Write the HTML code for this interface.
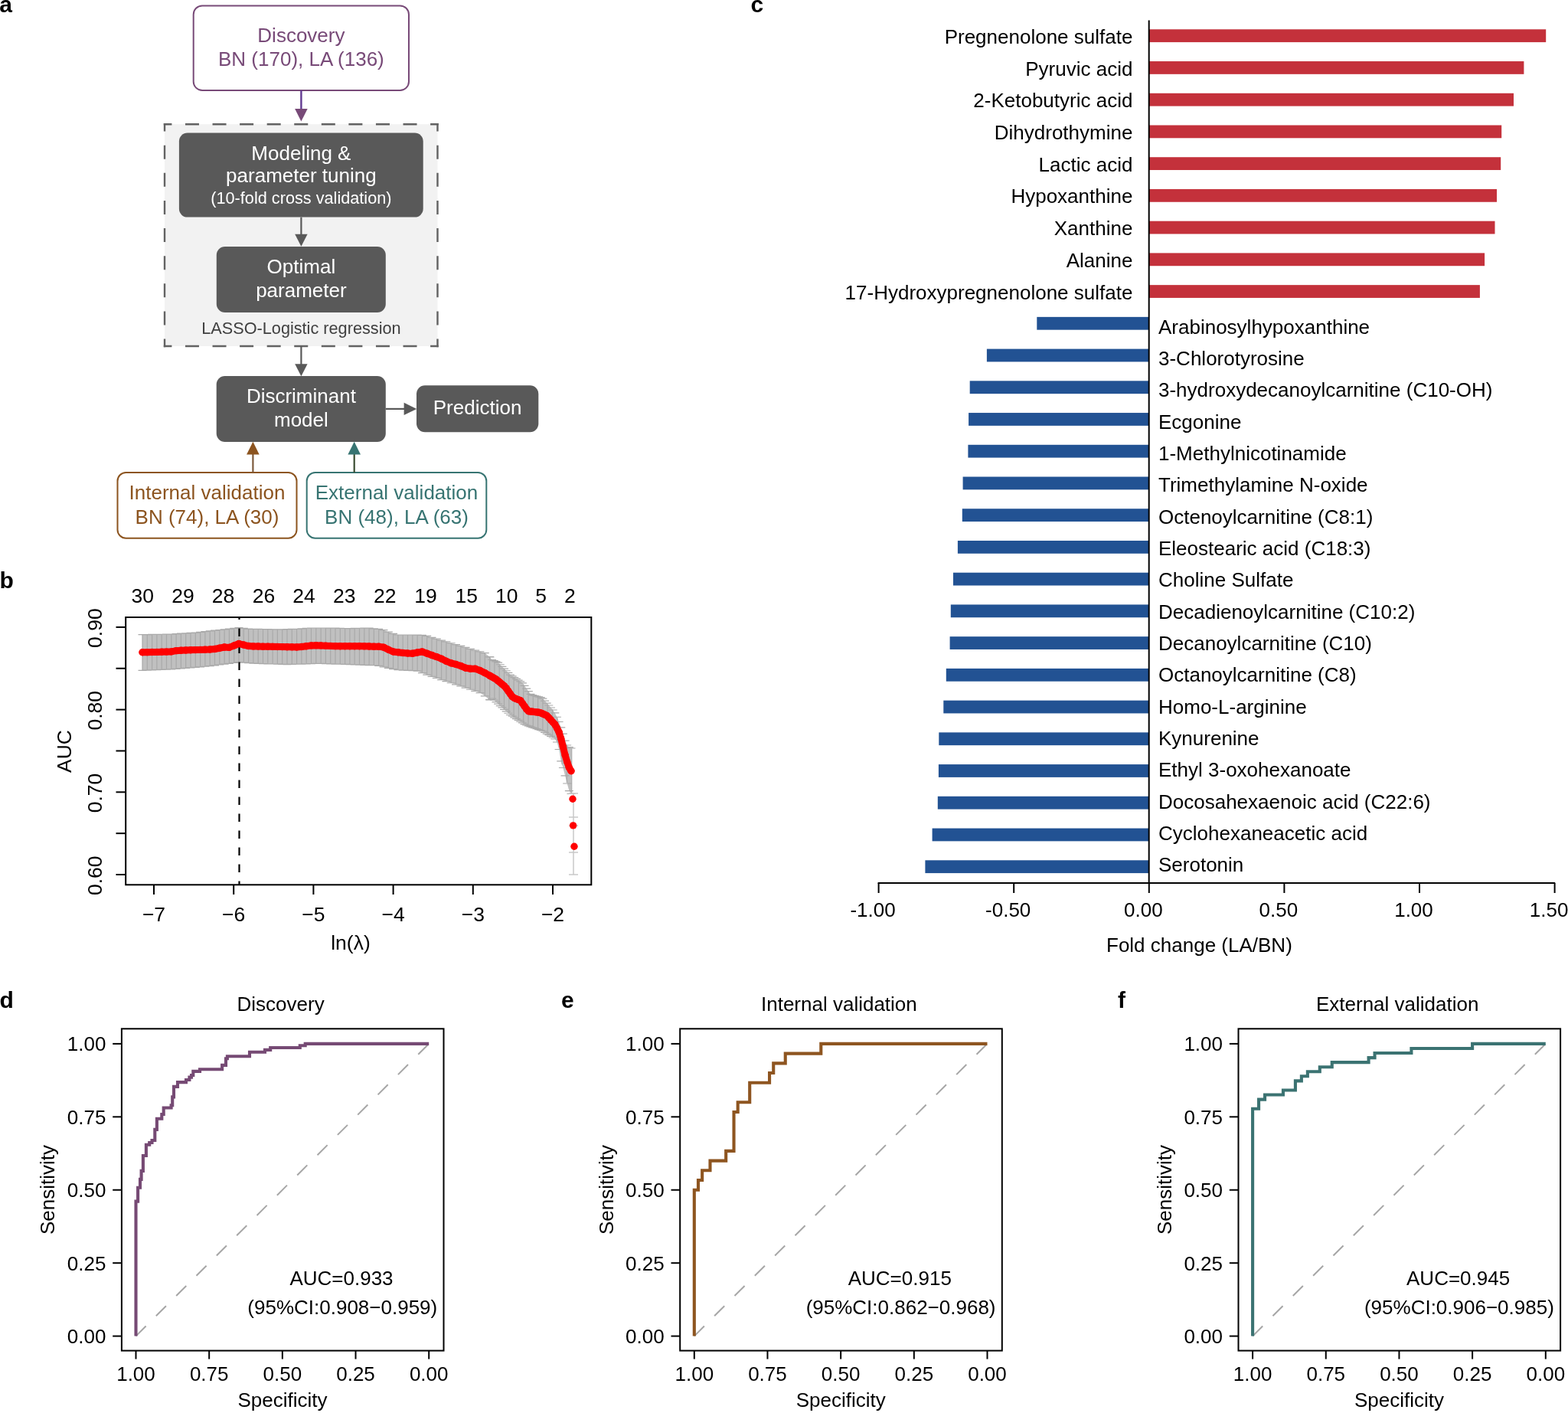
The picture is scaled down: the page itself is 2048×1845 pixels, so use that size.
<!DOCTYPE html>
<html><head><meta charset="utf-8"><title>Figure</title>
<style>
html,body{margin:0;padding:0;background:#fff;width:2048px;height:1845px;overflow:hidden;}
svg{display:block;}
text{font-family:"Liberation Sans", Arial, sans-serif;}
</style></head><body>
<svg width="2048" height="1845" viewBox="0 0 2048 1845">
<rect width="2048" height="1845" fill="#fff"/>
<text x="-0.8" y="15.6" font-size="30" text-anchor="start" fill="#000" font-weight="bold">a</text>
<text x="980.4" y="16.2" font-size="30" text-anchor="start" fill="#000" font-weight="bold">c</text>
<text x="-0.6" y="767.6" font-size="30" text-anchor="start" fill="#000" font-weight="bold">b</text>
<text x="-0.6" y="1315.7" font-size="30" text-anchor="start" fill="#000" font-weight="bold">d</text>
<text x="733" y="1315.7" font-size="30" text-anchor="start" fill="#000" font-weight="bold">e</text>
<text x="1460" y="1315.7" font-size="30" text-anchor="start" fill="#000" font-weight="bold">f</text>
<rect x="252.7" y="7.4" width="281.3" height="110.6" rx="11.5" fill="#fff" stroke="#784a78" stroke-width="2"/>
<text x="393.4" y="55" font-size="26" text-anchor="middle" fill="#784a78">Discovery</text>
<text x="393.4" y="86.4" font-size="26" text-anchor="middle" fill="#784a78">BN (170), LA (136)</text>
<line x1="393.4" y1="118" x2="393.4" y2="143" stroke="#623a92" stroke-width="2.4"/>
<polygon points="385.1,142 401.7,142 393.4,158.5" fill="#784a78"/>
<rect x="215" y="162.2" width="356.5" height="289.8" rx="0" fill="#f2f2f2" stroke="none" stroke-width="0"/>
<line x1="213.8" y1="162.2" x2="572.7" y2="162.2" stroke="#626262" stroke-width="2.4" stroke-dasharray="18,17.57" stroke-dashoffset="7.4"/>
<line x1="213.8" y1="452" x2="572.7" y2="452" stroke="#626262" stroke-width="2.4" stroke-dasharray="18,17.57" stroke-dashoffset="7.4"/>
<line x1="215" y1="161" x2="215" y2="453.2" stroke="#626262" stroke-width="2.4" stroke-dasharray="18,18.125" stroke-dashoffset="7.4"/>
<line x1="571.5" y1="161" x2="571.5" y2="453.2" stroke="#626262" stroke-width="2.4" stroke-dasharray="18,18.125" stroke-dashoffset="7.4"/>
<rect x="233.9" y="173.5" width="318.8" height="110.1" rx="11" fill="#595959" stroke="none" stroke-width="0"/>
<text x="393.4" y="208.7" font-size="26" text-anchor="middle" fill="#fff">Modeling &amp;</text>
<text x="393.4" y="238.4" font-size="26" text-anchor="middle" fill="#fff">parameter tuning</text>
<text x="393.4" y="266" font-size="21.7" text-anchor="middle" fill="#fff">(10-fold cross validation)</text>
<line x1="393.4" y1="283.6" x2="393.4" y2="307" stroke="#595959" stroke-width="2.2"/>
<polygon points="385.2,305.8 401.6,305.8 393.4,321.8" fill="#595959"/>
<rect x="282.8" y="322" width="221" height="86" rx="11" fill="#595959" stroke="none" stroke-width="0"/>
<text x="393.4" y="357" font-size="26" text-anchor="middle" fill="#fff">Optimal</text>
<text x="393.4" y="388" font-size="26" text-anchor="middle" fill="#fff">parameter</text>
<text x="393.4" y="436" font-size="21.7" text-anchor="middle" fill="#404040">LASSO-Logistic regression</text>
<line x1="393.4" y1="452" x2="393.4" y2="476" stroke="#595959" stroke-width="2.2"/>
<polygon points="385.2,475.3 401.6,475.3 393.4,491.2" fill="#595959"/>
<rect x="282.7" y="491" width="221.1" height="86" rx="11" fill="#595959" stroke="none" stroke-width="0"/>
<text x="393.4" y="525.6" font-size="26" text-anchor="middle" fill="#fff">Discriminant</text>
<text x="393.4" y="557.1" font-size="26" text-anchor="middle" fill="#fff">model</text>
<rect x="544" y="503.2" width="159.3" height="61.1" rx="11" fill="#595959" stroke="none" stroke-width="0"/>
<text x="623.6" y="540.5" font-size="26" text-anchor="middle" fill="#fff">Prediction</text>
<line x1="503.8" y1="533.9" x2="529" y2="533.9" stroke="#595959" stroke-width="2.2"/>
<polygon points="527.6,525.7 527.6,542.1 544.2,533.9" fill="#595959"/>
<rect x="153.5" y="617.1" width="234" height="85.6" rx="11" fill="#fff" stroke="#8c541f" stroke-width="2"/>
<text x="270.5" y="651.9" font-size="26" text-anchor="middle" fill="#8c541f">Internal validation</text>
<text x="270.5" y="683.5" font-size="26" text-anchor="middle" fill="#8c541f">BN (74), LA (30)</text>
<line x1="330.4" y1="617" x2="330.4" y2="592" stroke="#7d5a3c" stroke-width="2.2"/>
<polygon points="322.1,593.6 338.7,593.6 330.4,576.8" fill="#8c541f"/>
<rect x="400.7" y="617.1" width="234.6" height="85.6" rx="11" fill="#fff" stroke="#377472" stroke-width="2"/>
<text x="518" y="651.9" font-size="26" text-anchor="middle" fill="#377472">External validation</text>
<text x="518" y="683.5" font-size="26" text-anchor="middle" fill="#377472">BN (48), LA (63)</text>
<line x1="462.7" y1="617" x2="462.7" y2="592" stroke="#3c4e33" stroke-width="2.2"/>
<polygon points="454.4,593.6 471,593.6 462.7,576.8" fill="#377472"/>
<polygon points="186,828.71 192.3,828.59 198.6,828.47 204.9,828.35 211.2,828.23 217.5,828.11 223.8,827.98 230.1,827.6 236.4,827.22 242.7,826.84 249,826.46 255.3,826.06 261.6,825.32 267.9,824.58 274.2,823.84 280.5,823.13 286.8,822.49 293.1,821.86 299.4,821.22 305.7,820.47 312,819.6 318.3,820.34 324.6,821.07 330.9,821.29 337.2,821.41 343.5,821.52 349.8,821.64 356.1,821.75 362.4,821.86 368.7,821.78 375,821.61 381.3,821.44 387.6,821.27 393.9,820.85 400.2,820.26 406.5,820 412.8,820 419.1,820 425.4,820 431.7,820.07 438,820.22 444.3,820.36 450.6,820.51 456.9,820.54 463.2,820.4 469.5,820.25 475.8,820.1 482.1,820.19 488.4,820.81 494.7,821.43 501,822.53 507.3,825.19 513.6,827.33 519.9,829 526.2,829 532.5,829 538.8,829 545.1,829.03 551.4,829.45 557.7,830.45 564,832.34 570.3,834.22 576.6,836.09 582.9,837.92 589.2,839.75 595.5,841.57 601.8,843.44 608.1,845.36 614.4,847.28 620.7,849.15 627,850.93 633.3,852.72 639.6,857.65 640,858 642.65,861.51 645.3,862.72 647.95,863.94 650.6,865.15 653.25,867.77 655.9,870.43 658.55,873.1 661.2,875.77 663.85,878.43 666.5,881.03 669.15,882.79 671.8,884.54 674.45,886.3 677.1,888.05 679.75,889.81 682.4,891.85 685.05,895.46 687.7,899.08 690.35,902.7 693,906.32 695.65,907.62 698.3,908.38 700.95,909.14 703.6,909.91 706.25,910.67 708.9,912.1 711.55,915.06 714.2,918.03 716.85,921 719.5,924.01 722.15,927.02 724.8,930.92 727.45,936.27 730.1,942.49 732.75,949.93 735.4,958.08 738.05,967.1 740.7,973 743.35,975.65 746,977 746,1036.5 743.35,1032.6 740.7,1023.01 738.05,1012.84 735.4,1002.48 732.75,993.86 730.1,978.5 727.45,968.98 724.8,965 722.15,963 719.5,961.35 716.85,959.7 714.2,958.05 711.55,956.4 708.9,954.75 706.25,953.49 703.6,952.57 700.95,951.64 698.3,950.72 695.65,949.79 693,948.87 690.35,947.94 687.7,947.01 685.05,945.56 682.4,943.84 679.75,942.11 677.1,940.39 674.45,938.66 671.8,936.94 669.15,935.21 666.5,933.49 663.85,931.23 661.2,928.8 658.55,926.38 655.9,923.96 653.25,921.54 650.6,919.12 647.95,916.7 645.3,914.27 642.65,912.19 640,914 639.6,913.69 633.3,908.85 627,904.56 620.7,902.41 614.4,900.26 608.1,898.11 601.8,895.96 595.5,893.83 589.2,891.73 582.9,889.63 576.6,887.53 570.3,885.43 564,883.32 557.7,881.2 551.4,878.71 545.1,876.2 538.8,875.71 532.5,875.39 526.2,875.07 519.9,874.76 513.6,873.64 507.3,872.36 501,870.86 494.7,869.3 488.4,868.74 482.1,868.53 475.8,868.32 469.5,868.11 463.2,867.89 456.9,867.68 450.6,867.47 444.3,867.26 438,867.05 431.7,866.83 425.4,866.62 419.1,866.41 412.8,866.4 406.5,866.61 400.2,866.83 393.9,867.04 387.6,867.25 381.3,867.46 375,867.54 368.7,867.35 362.4,867.17 356.1,866.99 349.8,866.81 343.5,866.63 337.2,866.44 330.9,866.18 324.6,865.62 318.3,865.06 312,864.5 305.7,865.51 299.4,866.4 293.1,867.2 286.8,867.99 280.5,868.79 274.2,869.58 267.9,870.25 261.6,870.78 255.3,871.31 249,871.84 242.7,872.37 236.4,872.91 230.1,873.44 223.8,873.97 217.5,874.21 211.2,874.44 204.9,874.66 198.6,874.89 192.3,875.11 186,875.34" fill="#c0c0c0"/>
<path d="M186 828.71V875.34M192.3 828.59V875.11M198.6 828.47V874.89M204.9 828.35V874.66M211.2 828.23V874.44M217.5 828.11V874.21M223.8 827.98V873.97M230.1 827.6V873.44M236.4 827.22V872.91M242.7 826.84V872.37M249 826.46V871.84M255.3 826.06V871.31M261.6 825.32V870.78M267.9 824.58V870.25M274.2 823.84V869.58M280.5 823.13V868.79M286.8 822.49V867.99M293.1 821.86V867.2M299.4 821.22V866.4M305.7 820.47V865.51M312 819.6V864.5M318.3 820.34V865.06M324.6 821.07V865.62M330.9 821.29V866.18M337.2 821.41V866.44M343.5 821.52V866.63M349.8 821.64V866.81M356.1 821.75V866.99M362.4 821.86V867.17M368.7 821.78V867.35M375 821.61V867.54M381.3 821.44V867.46M387.6 821.27V867.25M393.9 820.85V867.04M400.2 820.26V866.83M406.5 820V866.61M412.8 820V866.4M419.1 820V866.41M425.4 820V866.62M431.7 820.07V866.83M438 820.22V867.05M444.3 820.36V867.26M450.6 820.51V867.47M456.9 820.54V867.68M463.2 820.4V867.89M469.5 820.25V868.11M475.8 820.1V868.32M482.1 820.19V868.53M488.4 820.81V868.74M494.7 821.43V869.3M501 822.53V870.86M507.3 825.19V872.36M513.6 827.33V873.64M519.9 829V874.76M526.2 829V875.07M532.5 829V875.39M538.8 829V875.71M545.1 829.03V876.2M551.4 829.45V878.71M557.7 830.45V881.2M564 832.34V883.32M570.3 834.22V885.43M576.6 836.09V887.53M582.9 837.92V889.63M589.2 839.75V891.73M595.5 841.57V893.83M601.8 843.44V895.96M608.1 845.36V898.11M614.4 847.28V900.26M620.7 849.15V902.41M627 850.93V904.56M633.3 852.72V908.85M639.6 857.65V913.69M645.9 863V914.82M652.2 866.71V920.58M658.5 873.05V926.34M664.8 879.39V932.09M671.1 884.08V936.48M677.4 888.25V940.58M683.7 893.62V944.68M690 902.22V947.82M696.3 907.81V950.02M702.6 909.62V952.22M708.9 912.1V954.75M715.2 919.15V958.67M721.5 926.28V962.59M727.8 936.98V969.5M734.1 953.72V998.25M740.4 972.7V1021.9M746.7 977V1036.5M180.5 828.71H191.5M180.5 875.34H191.5M186.8 828.59H197.8M186.8 875.11H197.8M193.1 828.47H204.1M193.1 874.89H204.1M199.4 828.35H210.4M199.4 874.66H210.4M205.7 828.23H216.7M205.7 874.44H216.7M212 828.11H223M212 874.21H223M218.3 827.98H229.3M218.3 873.97H229.3M224.6 827.6H235.6M224.6 873.44H235.6M230.9 827.22H241.9M230.9 872.91H241.9M237.2 826.84H248.2M237.2 872.37H248.2M243.5 826.46H254.5M243.5 871.84H254.5M249.8 826.06H260.8M249.8 871.31H260.8M256.1 825.32H267.1M256.1 870.78H267.1M262.4 824.58H273.4M262.4 870.25H273.4M268.7 823.84H279.7M268.7 869.58H279.7M275 823.13H286M275 868.79H286M281.3 822.49H292.3M281.3 867.99H292.3M287.6 821.86H298.6M287.6 867.2H298.6M293.9 821.22H304.9M293.9 866.4H304.9M300.2 820.47H311.2M300.2 865.51H311.2M306.5 819.6H317.5M306.5 864.5H317.5M312.8 820.34H323.8M312.8 865.06H323.8M319.1 821.07H330.1M319.1 865.62H330.1M325.4 821.29H336.4M325.4 866.18H336.4M331.7 821.41H342.7M331.7 866.44H342.7M338 821.52H349M338 866.63H349M344.3 821.64H355.3M344.3 866.81H355.3M350.6 821.75H361.6M350.6 866.99H361.6M356.9 821.86H367.9M356.9 867.17H367.9M363.2 821.78H374.2M363.2 867.35H374.2M369.5 821.61H380.5M369.5 867.54H380.5M375.8 821.44H386.8M375.8 867.46H386.8M382.1 821.27H393.1M382.1 867.25H393.1M388.4 820.85H399.4M388.4 867.04H399.4M394.7 820.26H405.7M394.7 866.83H405.7M401 820H412M401 866.61H412M407.3 820H418.3M407.3 866.4H418.3M413.6 820H424.6M413.6 866.41H424.6M419.9 820H430.9M419.9 866.62H430.9M426.2 820.07H437.2M426.2 866.83H437.2M432.5 820.22H443.5M432.5 867.05H443.5M438.8 820.36H449.8M438.8 867.26H449.8M445.1 820.51H456.1M445.1 867.47H456.1M451.4 820.54H462.4M451.4 867.68H462.4M457.7 820.4H468.7M457.7 867.89H468.7M464 820.25H475M464 868.11H475M470.3 820.1H481.3M470.3 868.32H481.3M476.6 820.19H487.6M476.6 868.53H487.6M482.9 820.81H493.9M482.9 868.74H493.9M489.2 821.43H500.2M489.2 869.3H500.2M495.5 822.53H506.5M495.5 870.86H506.5M501.8 825.19H512.8M501.8 872.36H512.8M508.1 827.33H519.1M508.1 873.64H519.1M514.4 829H525.4M514.4 874.76H525.4M520.7 829H531.7M520.7 875.07H531.7M527 829H538M527 875.39H538M533.3 829H544.3M533.3 875.71H544.3M539.6 829.03H550.6M539.6 876.2H550.6M545.9 829.45H556.9M545.9 878.71H556.9M552.2 830.45H563.2M552.2 881.2H563.2M558.5 832.34H569.5M558.5 883.32H569.5M564.8 834.22H575.8M564.8 885.43H575.8M571.1 836.09H582.1M571.1 887.53H582.1M577.4 837.92H588.4M577.4 889.63H588.4M583.7 839.75H594.7M583.7 891.73H594.7M590 841.57H601M590 893.83H601M596.3 843.44H607.3M596.3 895.96H607.3M602.6 845.36H613.6M602.6 898.11H613.6M608.9 847.28H619.9M608.9 900.26H619.9M615.2 849.15H626.2M615.2 902.41H626.2M621.5 850.93H632.5M621.5 904.56H632.5M627.8 852.72H638.8M627.8 908.85H638.8M634.1 857.65H645.1M634.1 913.69H645.1M634.5 858H645.5M634.5 914H645.5M637.15 861.51H648.15M637.15 912.19H648.15M639.8 862.72H650.8M639.8 914.27H650.8M642.45 863.94H653.45M642.45 916.7H653.45M645.1 865.15H656.1M645.1 919.12H656.1M647.75 867.77H658.75M647.75 921.54H658.75M650.4 870.43H661.4M650.4 923.96H661.4M653.05 873.1H664.05M653.05 926.38H664.05M655.7 875.77H666.7M655.7 928.8H666.7M658.35 878.43H669.35M658.35 931.23H669.35M661 881.03H672M661 933.49H672M663.65 882.79H674.65M663.65 935.21H674.65M666.3 884.54H677.3M666.3 936.94H677.3M668.95 886.3H679.95M668.95 938.66H679.95M671.6 888.05H682.6M671.6 940.39H682.6M674.25 889.81H685.25M674.25 942.11H685.25M676.9 891.85H687.9M676.9 943.84H687.9M679.55 895.46H690.55M679.55 945.56H690.55M682.2 899.08H693.2M682.2 947.01H693.2M684.85 902.7H695.85M684.85 947.94H695.85M687.5 906.32H698.5M687.5 948.87H698.5M690.15 907.62H701.15M690.15 949.79H701.15M692.8 908.38H703.8M692.8 950.72H703.8M695.45 909.14H706.45M695.45 951.64H706.45M698.1 909.91H709.1M698.1 952.57H709.1M700.75 910.67H711.75M700.75 953.49H711.75M703.4 912.1H714.4M703.4 954.75H714.4M706.05 915.06H717.05M706.05 956.4H717.05M708.7 918.03H719.7M708.7 958.05H719.7M711.35 921H722.35M711.35 959.7H722.35M714 924.01H725M714 961.35H725M716.65 927.02H727.65M716.65 963H727.65M719.3 930.92H730.3M719.3 965H730.3M721.95 936.27H732.95M721.95 968.98H732.95M724.6 942.49H735.6M724.6 978.5H735.6M727.25 949.93H738.25M727.25 993.86H738.25M729.9 958.08H740.9M729.9 1002.48H740.9M732.55 967.1H743.55M732.55 1012.84H743.55M735.2 973H746.2M735.2 1023.01H746.2M737.85 975.65H748.85M737.85 1032.6H748.85M740.5 977H751.5M740.5 1036.5H751.5" stroke="#a9a9a9" stroke-width="1.2" fill="none"/>
<line x1="749" y1="1035" x2="749" y2="1142" stroke="#c8c8c8" stroke-width="1.5"/>
<line x1="743" y1="1036" x2="755" y2="1036" stroke="#c8c8c8" stroke-width="1.5"/>
<line x1="743" y1="1067" x2="755" y2="1067" stroke="#c8c8c8" stroke-width="1.5"/>
<line x1="743" y1="1078" x2="755" y2="1078" stroke="#c8c8c8" stroke-width="1.5"/>
<line x1="743" y1="1113" x2="755" y2="1113" stroke="#c8c8c8" stroke-width="1.5"/>
<line x1="743" y1="1142" x2="755" y2="1142" stroke="#c8c8c8" stroke-width="1.5"/>
<line x1="312.5" y1="806" x2="312.5" y2="1155.3" stroke="#000" stroke-width="2.2" stroke-dasharray="10.5,11.5" stroke-dashoffset="7.6"/>
<polyline points="186,851.79 192.3,851.65 198.6,851.52 204.9,851.39 211.2,851.26 217.5,851.12 223.8,850.92 230.1,849.64 236.4,849.23 242.7,849.02 249,848.8 255.3,848.59 261.6,848.38 267.9,848.17 274.2,847.95 280.5,847.47 286.8,846.24 293.1,845.01 299.4,845.4 305.7,842.95 312,840.5 318.3,842.02 324.6,843.54 330.9,843.9 337.2,844.01 343.5,844.13 349.8,844.25 356.1,844.37 362.4,844.48 368.7,844.6 375,844.72 381.3,844.84 387.6,844.95 393.9,844.51 400.2,843.69 406.5,842.88 412.8,842.64 419.1,842.89 425.4,843.15 431.7,843.4 438,843.65 444.3,843.8 450.6,843.8 456.9,843.8 463.2,843.8 469.5,843.8 475.8,843.85 482.1,843.99 488.4,844.14 494.7,844.29 501,845.14 507.3,848.27 513.6,850.95 519.9,851.72 526.2,852.46 532.5,852.96 538.8,853.26 545.1,851.99 551.4,850.94 557.7,853.19 564,855.43 570.3,857.67 576.6,860.16 582.9,863.33 589.2,865.88 595.5,867.42 601.8,869.51 608.1,872.18 614.4,873.2 620.7,873.2 627,875.48 633.3,878.6 639.6,882.13 640,882.36 642.65,883.88 645.3,885.4 647.95,886.91 650.6,889.08 653.25,891.28 655.9,893.49 658.55,895.69 661.2,898.58 663.85,902.31 666.5,906.03 669.15,909.75 671.8,911.55 674.45,912.59 677.1,913.64 679.75,914.68 682.4,918.39 685.05,922.15 687.7,925.91 690.35,928.68 693,928.98 695.65,929.28 698.3,929.59 700.95,929.92 703.6,930.26 706.25,930.84 708.9,932.03 711.55,933.22 714.2,934.41 716.85,937.17 719.5,940.07 722.15,942.96 724.8,945.85 727.45,950.7 730.1,956 732.75,964.48 735.4,975.19 738.05,985.73 740.7,994.74 743.35,1002.28 746,1006.7" fill="none" stroke="#ff0000" stroke-width="9" stroke-linejoin="round" stroke-linecap="round"/>
<g fill="#ff0000"><circle cx="186" cy="851.79" r="4.7"/><circle cx="192.3" cy="851.65" r="4.7"/><circle cx="198.6" cy="851.52" r="4.7"/><circle cx="204.9" cy="851.39" r="4.7"/><circle cx="211.2" cy="851.26" r="4.7"/><circle cx="217.5" cy="851.12" r="4.7"/><circle cx="223.8" cy="850.92" r="4.7"/><circle cx="230.1" cy="849.64" r="4.7"/><circle cx="236.4" cy="849.23" r="4.7"/><circle cx="242.7" cy="849.02" r="4.7"/><circle cx="249" cy="848.8" r="4.7"/><circle cx="255.3" cy="848.59" r="4.7"/><circle cx="261.6" cy="848.38" r="4.7"/><circle cx="267.9" cy="848.17" r="4.7"/><circle cx="274.2" cy="847.95" r="4.7"/><circle cx="280.5" cy="847.47" r="4.7"/><circle cx="286.8" cy="846.24" r="4.7"/><circle cx="293.1" cy="845.01" r="4.7"/><circle cx="299.4" cy="845.4" r="4.7"/><circle cx="305.7" cy="842.95" r="4.7"/><circle cx="312" cy="840.5" r="4.7"/><circle cx="318.3" cy="842.02" r="4.7"/><circle cx="324.6" cy="843.54" r="4.7"/><circle cx="330.9" cy="843.9" r="4.7"/><circle cx="337.2" cy="844.01" r="4.7"/><circle cx="343.5" cy="844.13" r="4.7"/><circle cx="349.8" cy="844.25" r="4.7"/><circle cx="356.1" cy="844.37" r="4.7"/><circle cx="362.4" cy="844.48" r="4.7"/><circle cx="368.7" cy="844.6" r="4.7"/><circle cx="375" cy="844.72" r="4.7"/><circle cx="381.3" cy="844.84" r="4.7"/><circle cx="387.6" cy="844.95" r="4.7"/><circle cx="393.9" cy="844.51" r="4.7"/><circle cx="400.2" cy="843.69" r="4.7"/><circle cx="406.5" cy="842.88" r="4.7"/><circle cx="412.8" cy="842.64" r="4.7"/><circle cx="419.1" cy="842.89" r="4.7"/><circle cx="425.4" cy="843.15" r="4.7"/><circle cx="431.7" cy="843.4" r="4.7"/><circle cx="438" cy="843.65" r="4.7"/><circle cx="444.3" cy="843.8" r="4.7"/><circle cx="450.6" cy="843.8" r="4.7"/><circle cx="456.9" cy="843.8" r="4.7"/><circle cx="463.2" cy="843.8" r="4.7"/><circle cx="469.5" cy="843.8" r="4.7"/><circle cx="475.8" cy="843.85" r="4.7"/><circle cx="482.1" cy="843.99" r="4.7"/><circle cx="488.4" cy="844.14" r="4.7"/><circle cx="494.7" cy="844.29" r="4.7"/><circle cx="501" cy="845.14" r="4.7"/><circle cx="507.3" cy="848.27" r="4.7"/><circle cx="513.6" cy="850.95" r="4.7"/><circle cx="519.9" cy="851.72" r="4.7"/><circle cx="526.2" cy="852.46" r="4.7"/><circle cx="532.5" cy="852.96" r="4.7"/><circle cx="538.8" cy="853.26" r="4.7"/><circle cx="545.1" cy="851.99" r="4.7"/><circle cx="551.4" cy="850.94" r="4.7"/><circle cx="557.7" cy="853.19" r="4.7"/><circle cx="564" cy="855.43" r="4.7"/><circle cx="570.3" cy="857.67" r="4.7"/><circle cx="576.6" cy="860.16" r="4.7"/><circle cx="582.9" cy="863.33" r="4.7"/><circle cx="589.2" cy="865.88" r="4.7"/><circle cx="595.5" cy="867.42" r="4.7"/><circle cx="601.8" cy="869.51" r="4.7"/><circle cx="608.1" cy="872.18" r="4.7"/><circle cx="614.4" cy="873.2" r="4.7"/><circle cx="620.7" cy="873.2" r="4.7"/><circle cx="627" cy="875.48" r="4.7"/><circle cx="633.3" cy="878.6" r="4.7"/><circle cx="639.6" cy="882.13" r="4.7"/><circle cx="640" cy="882.36" r="4.7"/><circle cx="642.65" cy="883.88" r="4.7"/><circle cx="645.3" cy="885.4" r="4.7"/><circle cx="647.95" cy="886.91" r="4.7"/><circle cx="650.6" cy="889.08" r="4.7"/><circle cx="653.25" cy="891.28" r="4.7"/><circle cx="655.9" cy="893.49" r="4.7"/><circle cx="658.55" cy="895.69" r="4.7"/><circle cx="661.2" cy="898.58" r="4.7"/><circle cx="663.85" cy="902.31" r="4.7"/><circle cx="666.5" cy="906.03" r="4.7"/><circle cx="669.15" cy="909.75" r="4.7"/><circle cx="671.8" cy="911.55" r="4.7"/><circle cx="674.45" cy="912.59" r="4.7"/><circle cx="677.1" cy="913.64" r="4.7"/><circle cx="679.75" cy="914.68" r="4.7"/><circle cx="682.4" cy="918.39" r="4.7"/><circle cx="685.05" cy="922.15" r="4.7"/><circle cx="687.7" cy="925.91" r="4.7"/><circle cx="690.35" cy="928.68" r="4.7"/><circle cx="693" cy="928.98" r="4.7"/><circle cx="695.65" cy="929.28" r="4.7"/><circle cx="698.3" cy="929.59" r="4.7"/><circle cx="700.95" cy="929.92" r="4.7"/><circle cx="703.6" cy="930.26" r="4.7"/><circle cx="706.25" cy="930.84" r="4.7"/><circle cx="708.9" cy="932.03" r="4.7"/><circle cx="711.55" cy="933.22" r="4.7"/><circle cx="714.2" cy="934.41" r="4.7"/><circle cx="716.85" cy="937.17" r="4.7"/><circle cx="719.5" cy="940.07" r="4.7"/><circle cx="722.15" cy="942.96" r="4.7"/><circle cx="724.8" cy="945.85" r="4.7"/><circle cx="727.45" cy="950.7" r="4.7"/><circle cx="730.1" cy="956" r="4.7"/><circle cx="732.75" cy="964.48" r="4.7"/><circle cx="735.4" cy="975.19" r="4.7"/><circle cx="738.05" cy="985.73" r="4.7"/><circle cx="740.7" cy="994.74" r="4.7"/><circle cx="743.35" cy="1002.28" r="4.7"/><circle cx="746" cy="1006.7" r="4.7"/><circle cx="748" cy="1043.3" r="4.7"/><circle cx="748.6" cy="1077.9" r="4.7"/><circle cx="750" cy="1105.2" r="4.7"/></g>
<rect x="164.2" y="806" width="608.1" height="349.3" rx="0" fill="none" stroke="#000" stroke-width="2"/>
<line x1="151.5" y1="1142" x2="164.2" y2="1142" stroke="#000" stroke-width="2"/>
<line x1="151.5" y1="1088.15" x2="164.2" y2="1088.15" stroke="#000" stroke-width="2"/>
<line x1="151.5" y1="1034.3" x2="164.2" y2="1034.3" stroke="#000" stroke-width="2"/>
<line x1="151.5" y1="980.45" x2="164.2" y2="980.45" stroke="#000" stroke-width="2"/>
<line x1="151.5" y1="926.6" x2="164.2" y2="926.6" stroke="#000" stroke-width="2"/>
<line x1="151.5" y1="872.75" x2="164.2" y2="872.75" stroke="#000" stroke-width="2"/>
<line x1="151.5" y1="818.9" x2="164.2" y2="818.9" stroke="#000" stroke-width="2"/>
<text x="0" y="0" font-size="26.5" text-anchor="middle" transform="translate(132.8 1143.2) rotate(-90)">0.60</text>
<text x="0" y="0" font-size="26.5" text-anchor="middle" transform="translate(132.8 1035.5) rotate(-90)">0.70</text>
<text x="0" y="0" font-size="26.5" text-anchor="middle" transform="translate(132.8 927.8) rotate(-90)">0.80</text>
<text x="0" y="0" font-size="26.5" text-anchor="middle" transform="translate(132.8 820.1) rotate(-90)">0.90</text>
<line x1="201" y1="1155.3" x2="201" y2="1168" stroke="#000" stroke-width="2"/>
<text x="201" y="1203" font-size="26.5" text-anchor="middle" fill="#000">−7</text>
<line x1="305.2" y1="1155.3" x2="305.2" y2="1168" stroke="#000" stroke-width="2"/>
<text x="305.2" y="1203" font-size="26.5" text-anchor="middle" fill="#000">−6</text>
<line x1="409.4" y1="1155.3" x2="409.4" y2="1168" stroke="#000" stroke-width="2"/>
<text x="409.4" y="1203" font-size="26.5" text-anchor="middle" fill="#000">−5</text>
<line x1="513.6" y1="1155.3" x2="513.6" y2="1168" stroke="#000" stroke-width="2"/>
<text x="513.6" y="1203" font-size="26.5" text-anchor="middle" fill="#000">−4</text>
<line x1="617.8" y1="1155.3" x2="617.8" y2="1168" stroke="#000" stroke-width="2"/>
<text x="617.8" y="1203" font-size="26.5" text-anchor="middle" fill="#000">−3</text>
<line x1="722" y1="1155.3" x2="722" y2="1168" stroke="#000" stroke-width="2"/>
<text x="722" y="1203" font-size="26.5" text-anchor="middle" fill="#000">−2</text>
<text x="458" y="1239.7" font-size="26.5" text-anchor="middle" fill="#000">ln(λ)</text>
<text x="0" y="0" font-size="26.5" text-anchor="middle" transform="translate(93 981) rotate(-90)">AUC</text>
<text x="186.2" y="787" font-size="26.5" text-anchor="middle" fill="#000">30</text>
<text x="239" y="787" font-size="26.5" text-anchor="middle" fill="#000">29</text>
<text x="291.5" y="787" font-size="26.5" text-anchor="middle" fill="#000">28</text>
<text x="344.4" y="787" font-size="26.5" text-anchor="middle" fill="#000">26</text>
<text x="397" y="787" font-size="26.5" text-anchor="middle" fill="#000">24</text>
<text x="449.8" y="787" font-size="26.5" text-anchor="middle" fill="#000">23</text>
<text x="502.7" y="787" font-size="26.5" text-anchor="middle" fill="#000">22</text>
<text x="556" y="787" font-size="26.5" text-anchor="middle" fill="#000">19</text>
<text x="609.3" y="787" font-size="26.5" text-anchor="middle" fill="#000">15</text>
<text x="661.8" y="787" font-size="26.5" text-anchor="middle" fill="#000">10</text>
<text x="706.6" y="787" font-size="26.5" text-anchor="middle" fill="#000">5</text>
<text x="744.4" y="787" font-size="26.5" text-anchor="middle" fill="#000">2</text>
<rect x="1500.7" y="38.3" width="518.5" height="16.8" rx="0" fill="#c4313b" stroke="none" stroke-width="0"/>
<text x="1479.4" y="56.8" font-size="26" text-anchor="end" fill="#000">Pregnenolone sulfate</text>
<rect x="1500.7" y="80.03" width="489.7" height="16.8" rx="0" fill="#c4313b" stroke="none" stroke-width="0"/>
<text x="1479.4" y="98.53" font-size="26" text-anchor="end" fill="#000">Pyruvic acid</text>
<rect x="1500.7" y="121.76" width="476.3" height="16.8" rx="0" fill="#c4313b" stroke="none" stroke-width="0"/>
<text x="1479.4" y="140.26" font-size="26" text-anchor="end" fill="#000">2-Ketobutyric acid</text>
<rect x="1500.7" y="163.49" width="460.5" height="16.8" rx="0" fill="#c4313b" stroke="none" stroke-width="0"/>
<text x="1479.4" y="181.99" font-size="26" text-anchor="end" fill="#000">Dihydrothymine</text>
<rect x="1500.7" y="205.22" width="459.5" height="16.8" rx="0" fill="#c4313b" stroke="none" stroke-width="0"/>
<text x="1479.4" y="223.72" font-size="26" text-anchor="end" fill="#000">Lactic acid</text>
<rect x="1500.7" y="246.95" width="454.3" height="16.8" rx="0" fill="#c4313b" stroke="none" stroke-width="0"/>
<text x="1479.4" y="265.45" font-size="26" text-anchor="end" fill="#000">Hypoxanthine</text>
<rect x="1500.7" y="288.68" width="451.8" height="16.8" rx="0" fill="#c4313b" stroke="none" stroke-width="0"/>
<text x="1479.4" y="307.18" font-size="26" text-anchor="end" fill="#000">Xanthine</text>
<rect x="1500.7" y="330.41" width="438.4" height="16.8" rx="0" fill="#c4313b" stroke="none" stroke-width="0"/>
<text x="1479.4" y="348.91" font-size="26" text-anchor="end" fill="#000">Alanine</text>
<rect x="1500.7" y="372.14" width="432.2" height="16.8" rx="0" fill="#c4313b" stroke="none" stroke-width="0"/>
<text x="1479.4" y="390.64" font-size="26" text-anchor="end" fill="#000">17-Hydroxypregnenolone sulfate</text>
<rect x="1354.3" y="413.87" width="146.4" height="16.8" rx="0" fill="#225293" stroke="none" stroke-width="0"/>
<text x="1513" y="435.6" font-size="26" text-anchor="start" fill="#000">Arabinosylhypoxanthine</text>
<rect x="1288.9" y="455.6" width="211.8" height="16.8" rx="0" fill="#225293" stroke="none" stroke-width="0"/>
<text x="1513" y="476.93" font-size="26" text-anchor="start" fill="#000">3-Chlorotyrosine</text>
<rect x="1266.7" y="497.33" width="234" height="16.8" rx="0" fill="#225293" stroke="none" stroke-width="0"/>
<text x="1513" y="518.26" font-size="26" text-anchor="start" fill="#000">3-hydroxydecanoylcarnitine (C10-OH)</text>
<rect x="1265.1" y="539.06" width="235.6" height="16.8" rx="0" fill="#225293" stroke="none" stroke-width="0"/>
<text x="1513" y="559.59" font-size="26" text-anchor="start" fill="#000">Ecgonine</text>
<rect x="1264.4" y="580.79" width="236.3" height="16.8" rx="0" fill="#225293" stroke="none" stroke-width="0"/>
<text x="1513" y="600.92" font-size="26" text-anchor="start" fill="#000">1-Methylnicotinamide</text>
<rect x="1257.6" y="622.52" width="243.1" height="16.8" rx="0" fill="#225293" stroke="none" stroke-width="0"/>
<text x="1513" y="642.25" font-size="26" text-anchor="start" fill="#000">Trimethylamine N-oxide</text>
<rect x="1256.8" y="664.25" width="243.9" height="16.8" rx="0" fill="#225293" stroke="none" stroke-width="0"/>
<text x="1513" y="683.58" font-size="26" text-anchor="start" fill="#000">Octenoylcarnitine (C8:1)</text>
<rect x="1250.9" y="705.98" width="249.8" height="16.8" rx="0" fill="#225293" stroke="none" stroke-width="0"/>
<text x="1513" y="724.91" font-size="26" text-anchor="start" fill="#000">Eleostearic acid (C18:3)</text>
<rect x="1245" y="747.71" width="255.7" height="16.8" rx="0" fill="#225293" stroke="none" stroke-width="0"/>
<text x="1513" y="766.24" font-size="26" text-anchor="start" fill="#000">Choline Sulfate</text>
<rect x="1241.8" y="789.44" width="258.9" height="16.8" rx="0" fill="#225293" stroke="none" stroke-width="0"/>
<text x="1513" y="807.57" font-size="26" text-anchor="start" fill="#000">Decadienoylcarnitine (C10:2)</text>
<rect x="1240.6" y="831.17" width="260.1" height="16.8" rx="0" fill="#225293" stroke="none" stroke-width="0"/>
<text x="1513" y="848.9" font-size="26" text-anchor="start" fill="#000">Decanoylcarnitine (C10)</text>
<rect x="1235.8" y="872.9" width="264.9" height="16.8" rx="0" fill="#225293" stroke="none" stroke-width="0"/>
<text x="1513" y="890.23" font-size="26" text-anchor="start" fill="#000">Octanoylcarnitine (C8)</text>
<rect x="1232.3" y="914.63" width="268.4" height="16.8" rx="0" fill="#225293" stroke="none" stroke-width="0"/>
<text x="1513" y="931.56" font-size="26" text-anchor="start" fill="#000">Homo-L-arginine</text>
<rect x="1226.3" y="956.36" width="274.4" height="16.8" rx="0" fill="#225293" stroke="none" stroke-width="0"/>
<text x="1513" y="972.89" font-size="26" text-anchor="start" fill="#000">Kynurenine</text>
<rect x="1225.9" y="998.09" width="274.8" height="16.8" rx="0" fill="#225293" stroke="none" stroke-width="0"/>
<text x="1513" y="1014.22" font-size="26" text-anchor="start" fill="#000">Ethyl 3-oxohexanoate</text>
<rect x="1224.8" y="1039.82" width="275.9" height="16.8" rx="0" fill="#225293" stroke="none" stroke-width="0"/>
<text x="1513" y="1055.55" font-size="26" text-anchor="start" fill="#000">Docosahexaenoic acid (C22:6)</text>
<rect x="1217.6" y="1081.55" width="283.1" height="16.8" rx="0" fill="#225293" stroke="none" stroke-width="0"/>
<text x="1513" y="1096.88" font-size="26" text-anchor="start" fill="#000">Cyclohexaneacetic acid</text>
<rect x="1208.4" y="1123.28" width="292.3" height="16.8" rx="0" fill="#225293" stroke="none" stroke-width="0"/>
<text x="1513" y="1138.21" font-size="26" text-anchor="start" fill="#000">Serotonin</text>
<line x1="1500.7" y1="26.4" x2="1500.7" y2="1153" stroke="#000" stroke-width="2"/>
<line x1="1146.6" y1="1153" x2="2031.2" y2="1153" stroke="#000" stroke-width="2"/>
<line x1="1147.6" y1="1153" x2="1147.6" y2="1166" stroke="#000" stroke-width="2"/>
<text x="1140.1" y="1197" font-size="26" text-anchor="middle" fill="#000">-1.00</text>
<line x1="1324.2" y1="1153" x2="1324.2" y2="1166" stroke="#000" stroke-width="2"/>
<text x="1316.7" y="1197" font-size="26" text-anchor="middle" fill="#000">-0.50</text>
<line x1="1500.8" y1="1153" x2="1500.8" y2="1166" stroke="#000" stroke-width="2"/>
<text x="1493.3" y="1197" font-size="26" text-anchor="middle" fill="#000">0.00</text>
<line x1="1677.4" y1="1153" x2="1677.4" y2="1166" stroke="#000" stroke-width="2"/>
<text x="1669.9" y="1197" font-size="26" text-anchor="middle" fill="#000">0.50</text>
<line x1="1854" y1="1153" x2="1854" y2="1166" stroke="#000" stroke-width="2"/>
<text x="1846.5" y="1197" font-size="26" text-anchor="middle" fill="#000">1.00</text>
<line x1="2030.6" y1="1153" x2="2030.6" y2="1166" stroke="#000" stroke-width="2"/>
<text x="2023.1" y="1197" font-size="26" text-anchor="middle" fill="#000">1.50</text>
<text x="1566.4" y="1242.6" font-size="26" text-anchor="middle" fill="#000">Fold change (LA/BN)</text>
<rect x="158.9" y="1343.3" width="420.6" height="420.3" rx="0" fill="none" stroke="#000" stroke-width="2"/>
<line x1="147.2" y1="1744.6" x2="158.9" y2="1744.6" stroke="#000" stroke-width="2"/>
<text x="138.4" y="1754" font-size="26" text-anchor="end" fill="#000">0.00</text>
<line x1="560.2" y1="1763.6" x2="560.2" y2="1774.6" stroke="#000" stroke-width="2"/>
<text x="560.2" y="1803" font-size="26" text-anchor="middle" fill="#000">0.00</text>
<line x1="147.2" y1="1649.17" x2="158.9" y2="1649.17" stroke="#000" stroke-width="2"/>
<text x="138.4" y="1658.58" font-size="26" text-anchor="end" fill="#000">0.25</text>
<line x1="464.52" y1="1763.6" x2="464.52" y2="1774.6" stroke="#000" stroke-width="2"/>
<text x="464.52" y="1803" font-size="26" text-anchor="middle" fill="#000">0.25</text>
<line x1="147.2" y1="1553.75" x2="158.9" y2="1553.75" stroke="#000" stroke-width="2"/>
<text x="138.4" y="1563.15" font-size="26" text-anchor="end" fill="#000">0.50</text>
<line x1="368.85" y1="1763.6" x2="368.85" y2="1774.6" stroke="#000" stroke-width="2"/>
<text x="368.85" y="1803" font-size="26" text-anchor="middle" fill="#000">0.50</text>
<line x1="147.2" y1="1458.32" x2="158.9" y2="1458.32" stroke="#000" stroke-width="2"/>
<text x="138.4" y="1467.72" font-size="26" text-anchor="end" fill="#000">0.75</text>
<line x1="273.18" y1="1763.6" x2="273.18" y2="1774.6" stroke="#000" stroke-width="2"/>
<text x="273.18" y="1803" font-size="26" text-anchor="middle" fill="#000">0.75</text>
<line x1="147.2" y1="1362.9" x2="158.9" y2="1362.9" stroke="#000" stroke-width="2"/>
<text x="138.4" y="1372.3" font-size="26" text-anchor="end" fill="#000">1.00</text>
<line x1="177.5" y1="1763.6" x2="177.5" y2="1774.6" stroke="#000" stroke-width="2"/>
<text x="177.5" y="1803" font-size="26" text-anchor="middle" fill="#000">1.00</text>
<text x="368.9" y="1837" font-size="26" text-anchor="middle" fill="#000">Specificity</text>
<text x="0" y="0" font-size="26" text-anchor="middle" transform="translate(71.2 1553.5) rotate(-90)">Sensitivity</text>
<text x="366.6" y="1319.7" font-size="26" text-anchor="middle" fill="#000">Discovery</text>
<line x1="177.5" y1="1744.6" x2="560.2" y2="1362.9" stroke="#a6a6a6" stroke-width="2" stroke-dasharray="18.5,18.7"/>
<path d="M177.5 1744.6 L177.5 1568.6 L180.1 1568.6 L180.1 1550.8 L183 1550.8 L183 1539.9 L184.6 1539.9 L184.6 1528.9 L186.9 1528.9 L186.9 1509 L190.9 1509 L190.9 1494.8 L195.2 1494.8 L195.2 1492 L198.5 1492 L198.5 1489 L202.3 1489 L202.3 1474.9 L204.9 1474.9 L204.9 1460.7 L211.3 1460.7 L211.3 1455 L213.7 1455 L213.7 1446.5 L223.6 1446.5 L223.6 1443.3 L225.2 1443.3 L225.2 1432.4 L227 1432.4 L227 1418.9 L232 1418.9 L232 1413.1 L243 1413.1 L243 1410 L247.4 1410 L247.4 1406.6 L250 1406.6 L250 1404 L252.3 1404 L252.3 1398.9 L261 1398.9 L261 1396.3 L290.1 1396.3 L290.1 1390.9 L295 1390.9 L295 1382.2 L296.9 1382.2 L296.9 1379.3 L326 1379.3 L326 1373.8 L346 1373.8 L346 1370.9 L353.2 1370.9 L353.2 1368 L391.8 1368 L391.8 1365.2 L398.7 1365.2 L398.7 1362.9 L560.2 1362.9" fill="none" stroke="#764a74" stroke-width="4.1" stroke-linejoin="miter"/>
<text x="446" y="1678.2" font-size="26" text-anchor="middle" fill="#000">AUC=0.933</text>
<text x="447.3" y="1716.4" font-size="26" text-anchor="middle" fill="#000">(95%CI:0.908−0.959)</text>
<rect x="888.2" y="1343.3" width="420.6" height="420.3" rx="0" fill="none" stroke="#000" stroke-width="2"/>
<line x1="876.5" y1="1744.6" x2="888.2" y2="1744.6" stroke="#000" stroke-width="2"/>
<text x="867.7" y="1754" font-size="26" text-anchor="end" fill="#000">0.00</text>
<line x1="1289.5" y1="1763.6" x2="1289.5" y2="1774.6" stroke="#000" stroke-width="2"/>
<text x="1289.5" y="1803" font-size="26" text-anchor="middle" fill="#000">0.00</text>
<line x1="876.5" y1="1649.17" x2="888.2" y2="1649.17" stroke="#000" stroke-width="2"/>
<text x="867.7" y="1658.58" font-size="26" text-anchor="end" fill="#000">0.25</text>
<line x1="1193.82" y1="1763.6" x2="1193.82" y2="1774.6" stroke="#000" stroke-width="2"/>
<text x="1193.82" y="1803" font-size="26" text-anchor="middle" fill="#000">0.25</text>
<line x1="876.5" y1="1553.75" x2="888.2" y2="1553.75" stroke="#000" stroke-width="2"/>
<text x="867.7" y="1563.15" font-size="26" text-anchor="end" fill="#000">0.50</text>
<line x1="1098.15" y1="1763.6" x2="1098.15" y2="1774.6" stroke="#000" stroke-width="2"/>
<text x="1098.15" y="1803" font-size="26" text-anchor="middle" fill="#000">0.50</text>
<line x1="876.5" y1="1458.32" x2="888.2" y2="1458.32" stroke="#000" stroke-width="2"/>
<text x="867.7" y="1467.72" font-size="26" text-anchor="end" fill="#000">0.75</text>
<line x1="1002.47" y1="1763.6" x2="1002.47" y2="1774.6" stroke="#000" stroke-width="2"/>
<text x="1002.47" y="1803" font-size="26" text-anchor="middle" fill="#000">0.75</text>
<line x1="876.5" y1="1362.9" x2="888.2" y2="1362.9" stroke="#000" stroke-width="2"/>
<text x="867.7" y="1372.3" font-size="26" text-anchor="end" fill="#000">1.00</text>
<line x1="906.8" y1="1763.6" x2="906.8" y2="1774.6" stroke="#000" stroke-width="2"/>
<text x="906.8" y="1803" font-size="26" text-anchor="middle" fill="#000">1.00</text>
<text x="1098.2" y="1837" font-size="26" text-anchor="middle" fill="#000">Specificity</text>
<text x="0" y="0" font-size="26" text-anchor="middle" transform="translate(800.5 1553.5) rotate(-90)">Sensitivity</text>
<text x="1095.9" y="1319.7" font-size="26" text-anchor="middle" fill="#000">Internal validation</text>
<line x1="906.8" y1="1744.6" x2="1289.5" y2="1362.9" stroke="#a6a6a6" stroke-width="2" stroke-dasharray="18.5,18.7"/>
<path d="M906.8 1744.6 L906.8 1744.6 L906.8 1553.75 L911.97 1553.75 L911.97 1541.03 L917.14 1541.03 L917.14 1528.3 L927.49 1528.3 L927.49 1515.58 L948.17 1515.58 L948.17 1502.86 L958.52 1502.86 L958.52 1451.96 L963.69 1451.96 L963.69 1439.24 L979.2 1439.24 L979.2 1413.79 L1005.06 1413.79 L1005.06 1401.07 L1010.23 1401.07 L1010.23 1388.35 L1025.75 1388.35 L1025.75 1375.62 L1072.29 1375.62 L1072.29 1362.9 L1289.5 1362.9" fill="none" stroke="#8e5520" stroke-width="4.1" stroke-linejoin="miter"/>
<text x="1175.3" y="1678.2" font-size="26" text-anchor="middle" fill="#000">AUC=0.915</text>
<text x="1176.6" y="1716.4" font-size="26" text-anchor="middle" fill="#000">(95%CI:0.862−0.968)</text>
<rect x="1617.5" y="1343.3" width="420.6" height="420.3" rx="0" fill="none" stroke="#000" stroke-width="2"/>
<line x1="1605.8" y1="1744.6" x2="1617.5" y2="1744.6" stroke="#000" stroke-width="2"/>
<text x="1597" y="1754" font-size="26" text-anchor="end" fill="#000">0.00</text>
<line x1="2018.8" y1="1763.6" x2="2018.8" y2="1774.6" stroke="#000" stroke-width="2"/>
<text x="2018.8" y="1803" font-size="26" text-anchor="middle" fill="#000">0.00</text>
<line x1="1605.8" y1="1649.17" x2="1617.5" y2="1649.17" stroke="#000" stroke-width="2"/>
<text x="1597" y="1658.58" font-size="26" text-anchor="end" fill="#000">0.25</text>
<line x1="1923.12" y1="1763.6" x2="1923.12" y2="1774.6" stroke="#000" stroke-width="2"/>
<text x="1923.12" y="1803" font-size="26" text-anchor="middle" fill="#000">0.25</text>
<line x1="1605.8" y1="1553.75" x2="1617.5" y2="1553.75" stroke="#000" stroke-width="2"/>
<text x="1597" y="1563.15" font-size="26" text-anchor="end" fill="#000">0.50</text>
<line x1="1827.45" y1="1763.6" x2="1827.45" y2="1774.6" stroke="#000" stroke-width="2"/>
<text x="1827.45" y="1803" font-size="26" text-anchor="middle" fill="#000">0.50</text>
<line x1="1605.8" y1="1458.32" x2="1617.5" y2="1458.32" stroke="#000" stroke-width="2"/>
<text x="1597" y="1467.72" font-size="26" text-anchor="end" fill="#000">0.75</text>
<line x1="1731.77" y1="1763.6" x2="1731.77" y2="1774.6" stroke="#000" stroke-width="2"/>
<text x="1731.77" y="1803" font-size="26" text-anchor="middle" fill="#000">0.75</text>
<line x1="1605.8" y1="1362.9" x2="1617.5" y2="1362.9" stroke="#000" stroke-width="2"/>
<text x="1597" y="1372.3" font-size="26" text-anchor="end" fill="#000">1.00</text>
<line x1="1636.1" y1="1763.6" x2="1636.1" y2="1774.6" stroke="#000" stroke-width="2"/>
<text x="1636.1" y="1803" font-size="26" text-anchor="middle" fill="#000">1.00</text>
<text x="1827.5" y="1837" font-size="26" text-anchor="middle" fill="#000">Specificity</text>
<text x="0" y="0" font-size="26" text-anchor="middle" transform="translate(1529.8 1553.5) rotate(-90)">Sensitivity</text>
<text x="1825.2" y="1319.7" font-size="26" text-anchor="middle" fill="#000">External validation</text>
<line x1="1636.1" y1="1744.6" x2="2018.8" y2="1362.9" stroke="#a6a6a6" stroke-width="2" stroke-dasharray="18.5,18.7"/>
<path d="M1636.1 1744.6 L1636.1 1744.6 L1636.1 1447.72 L1644.07 1447.72 L1644.07 1435.6 L1652.05 1435.6 L1652.05 1429.55 L1675.96 1429.55 L1675.96 1423.49 L1691.91 1423.49 L1691.91 1411.37 L1699.88 1411.37 L1699.88 1405.31 L1707.86 1405.31 L1707.86 1399.25 L1723.8 1399.25 L1723.8 1393.19 L1739.75 1393.19 L1739.75 1387.13 L1787.59 1387.13 L1787.59 1381.08 L1795.56 1381.08 L1795.56 1375.02 L1843.4 1375.02 L1843.4 1368.96 L1923.12 1368.96 L1923.12 1362.9 L2018.8 1362.9" fill="none" stroke="#3b7372" stroke-width="4.1" stroke-linejoin="miter"/>
<text x="1904.6" y="1678.2" font-size="26" text-anchor="middle" fill="#000">AUC=0.945</text>
<text x="1905.9" y="1716.4" font-size="26" text-anchor="middle" fill="#000">(95%CI:0.906−0.985)</text>
</svg>
</body></html>
